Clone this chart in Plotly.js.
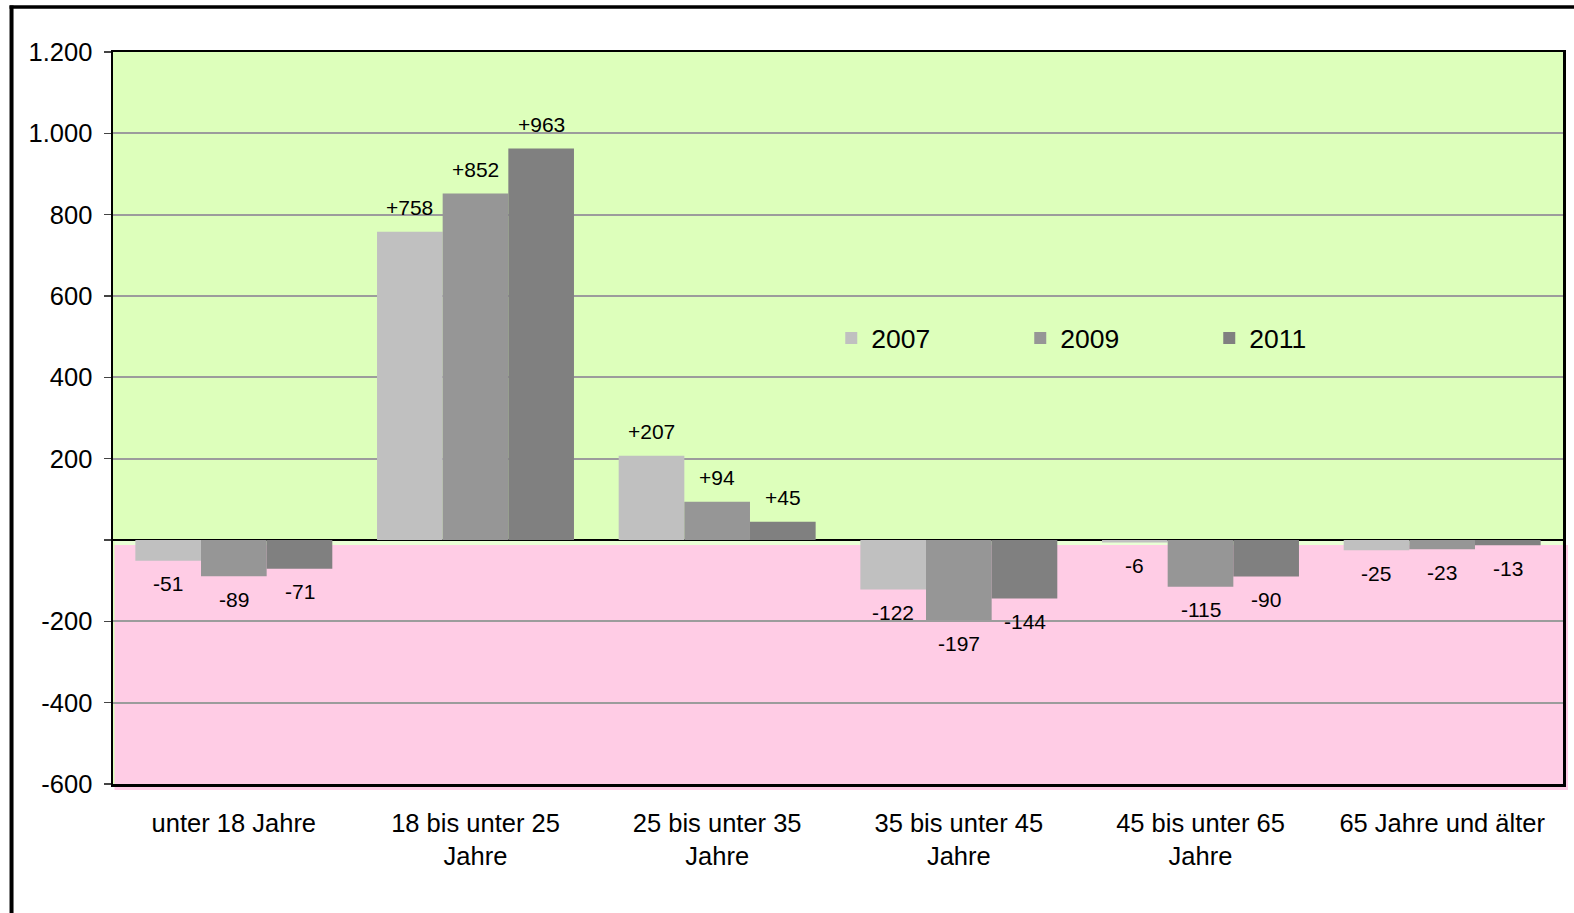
<!DOCTYPE html>
<html>
<head>
<meta charset="utf-8">
<script src="https://cdn.plot.ly/plotly-3.0.1.min.js"></script>
<style>
  html, body { margin: 0; padding: 0; background: #ffffff; }
  #chart { width: 1574px; height: 913px; }
</style>
</head>
<body>
<div id="chart"></div>
<script>
const categories = [
  "unter 18 Jahre",
  "18 bis unter 25<br>Jahre",
  "25 bis unter 35<br>Jahre",
  "35 bis unter 45<br>Jahre",
  "45 bis unter 65<br>Jahre",
  "65 Jahre und älter"
];
const seriesNames = ["2007", "2009", "2011"];
const values2007 = [-51, 758, 207, -122, -6, -25];
const values2009 = [-89, 852, 94, -197, -115, -23];
const values2011 = [-71, 963, 45, -144, -90, -13];
const seriesColors = ["#C0C0C0", "#969696", "#808080"];
const yTickVals = [-600, -400, -200, 0, 200, 400, 600, 800, 1000, 1200];
const yTickText = ["-600", "-400", "-200", "", "200", "400", "600", "800", "1.000", "1.200"];

const allSeries = [values2007, values2009, values2011];
const FONT = "'Liberation Sans', Arial, Helvetica, sans-serif";

const W = 1574, H = 913;
const margin = {l: 112.5, r: 11, t: 51.5, b: 129};
const bargap = 0.185;
const plotW = W - margin.l - margin.r;
const plotH = H - margin.t - margin.b;
const catPx = plotW / categories.length;
const barPx = catPx * (1 - bargap) / allSeries.length;

const traces = allSeries.map((vals, i) => ({
  type: "bar",
  name: seriesNames[i],
  x: categories,
  y: vals,
  marker: {color: seriesColors[i], line: {width: 0}},
  hoverinfo: "x+y+name"
}));

const annotations = [];
allSeries.forEach((vals, i) => {
  vals.forEach((v, j) => {
    annotations.push({
      x: categories[j],
      y: v,
      xref: "x",
      yref: "y",
      text: (v > 0 ? "+" : "") + v,
      showarrow: false,
      xanchor: "center",
      yanchor: "middle",
      xshift: (i - 1) * barPx,
      yshift: v >= 0 ? 24 : -23,
      font: {family: FONT, size: 21, color: "#000000"}
    });
  });
});

const px2x = p => (p - margin.l) / plotW;
const px2y = p => (H - margin.b - p) / plotH;
const yRange = [-600, 1200];
const val2paper = v => (v - yRange[0]) / (yRange[1] - yRange[0]);

const shapes = [
  {type: "rect", xref: "paper", yref: "paper", layer: "below",
   x0: px2x(114), x1: px2x(1568), y0: px2y(790), y1: val2paper(-12),
   fillcolor: "#FFCCE5", line: {width: 0}},
  {type: "rect", xref: "paper", yref: "paper", layer: "below",
   x0: px2x(114), x1: px2x(1562), y0: val2paper(-12), y1: val2paper(0),
   fillcolor: "#EAFFD6", line: {width: 0}},
  {type: "line", xref: "paper", yref: "paper", layer: "above",
   x0: px2x(11), x1: px2x(11), y0: px2y(5), y1: px2y(930),
   line: {color: "#000000", width: 4}},
  {type: "line", xref: "paper", yref: "paper", layer: "above",
   x0: px2x(9), x1: px2x(1590), y0: px2y(6.5), y1: px2y(6.5),
   line: {color: "#000000", width: 3.5}}
];

const layout = {
  width: W,
  height: H,
  autosize: false,
  margin: margin,
  paper_bgcolor: "#FFFFFF",
  plot_bgcolor: "#DDFFBB",
  barmode: "group",
  bargap: bargap,
  bargroupgap: 0,
  font: {family: FONT, color: "#000000", size: 25},
  showlegend: true,
  legend: {
    orientation: "h",
    x: px2x(831),
    xanchor: "left",
    y: px2y(338),
    yanchor: "middle",
    bgcolor: "rgba(0,0,0,0)",
    borderwidth: 0,
    entrywidth: 144,
    entrywidthmode: "pixels",
    font: {family: FONT, size: 26.5, color: "#000000"},
    traceorder: "normal"
  },
  xaxis: {
    type: "category",
    showgrid: false,
    ticks: "",
    ticklabelstandoff: 15,
    showline: true,
    mirror: true,
    linecolor: "#000000",
    linewidth: 2.5,
    tickfont: {family: FONT, size: 25.5, color: "#000000"},
    fixedrange: true
  },
  yaxis: {
    range: yRange,
    tickmode: "array",
    tickvals: yTickVals,
    ticktext: yTickText,
    ticks: "outside",
    ticklen: 7,
    tickwidth: 1.5,
    tickcolor: "#444444",
    ticklabelstandoff: 6,
    showgrid: true,
    gridcolor: "#9C9C9C",
    gridwidth: 2,
    zeroline: true,
    zerolinecolor: "#000000",
    zerolinewidth: 1.5,
    showline: true,
    mirror: true,
    linecolor: "#000000",
    linewidth: 2.5,
    tickfont: {family: FONT, size: 25.5, color: "#000000"},
    fixedrange: true
  },
  annotations: annotations,
  shapes: shapes
};

Plotly.newPlot("chart", traces, layout, {displayModeBar: false, staticPlot: true});
</script>
</body>
</html>
